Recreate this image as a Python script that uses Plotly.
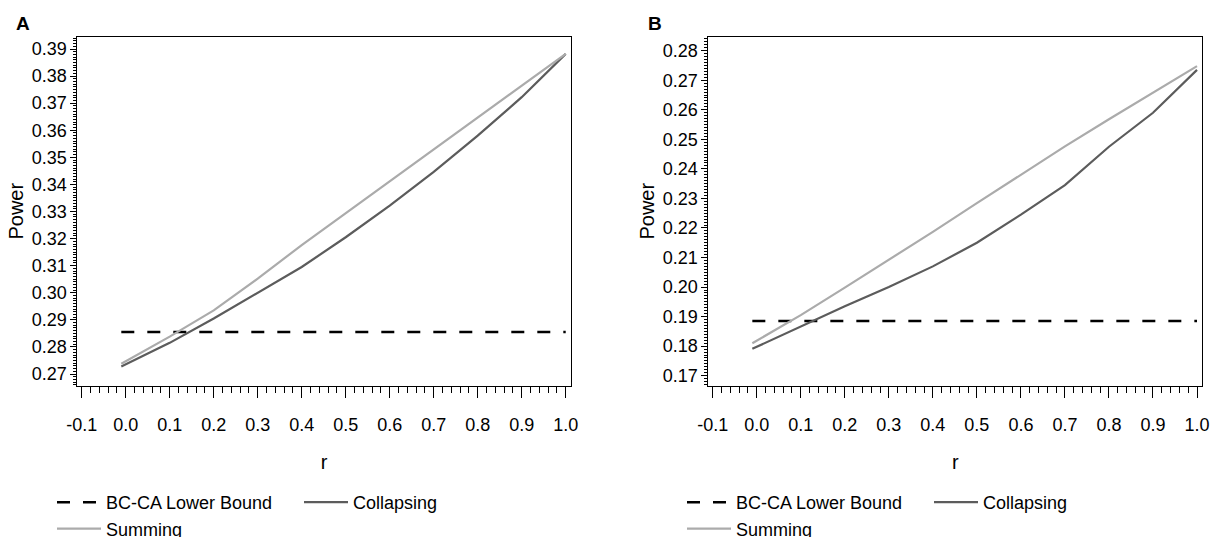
import plotly.graph_objects as go

# ---- data ----
r = [-0.01, 0.1, 0.2, 0.3, 0.4, 0.5, 0.6, 0.7, 0.8, 0.9, 1.0]

a_bound = [0.2855] * len(r)
a_collapsing = [0.2728, 0.2815, 0.2905, 0.3000, 0.3095, 0.3205, 0.3322, 0.3446, 0.3580, 0.3722, 0.3882]
a_summing = [0.2738, 0.2838, 0.2935, 0.3052, 0.3176, 0.3294, 0.3412, 0.3529, 0.3647, 0.3764, 0.3882]

b_bound = [0.1885] * len(r)
b_collapsing = [0.1791, 0.1866, 0.1935, 0.2000, 0.2070, 0.2150, 0.2245, 0.2345, 0.2475, 0.2590, 0.2735]
b_summing = [0.1810, 0.1905, 0.1998, 0.2092, 0.2187, 0.2284, 0.2380, 0.2476, 0.2568, 0.2657, 0.2748]

x_ticks = [-0.1, 0.0, 0.1, 0.2, 0.3, 0.4, 0.5, 0.6, 0.7, 0.8, 0.9, 1.0]
x_ticktext = ["-0.1", "0.0", "0.1", "0.2", "0.3", "0.4", "0.5", "0.6", "0.7", "0.8", "0.9", "1.0"]
a_yticks = [0.27, 0.28, 0.29, 0.30, 0.31, 0.32, 0.33, 0.34, 0.35, 0.36, 0.37, 0.38, 0.39]
b_yticks = [0.17, 0.18, 0.19, 0.20, 0.21, 0.22, 0.23, 0.24, 0.25, 0.26, 0.27, 0.28]

names = ["BC-CA Lower Bound", "Collapsing", "Summing"]
panel_labels = ["A", "B"]

W, H = 1213, 537
FONT = "Liberation Sans, Arial, sans-serif"
DARK = "#5c5c5c"
LIGHT = "#ababab"

fig = go.Figure()

def add_panel(xa, ya, leg, bound, coll, summ):
    fig.add_trace(go.Scatter(x=r, y=bound, mode="lines", name=names[0],
                             line=dict(color="black", width=2.6, dash="13px,13px"),
                             xaxis=xa, yaxis=ya, legend=leg, legendgroup="g1"))
    fig.add_trace(go.Scatter(x=r, y=coll, mode="lines", name=names[1],
                             line=dict(color=DARK, width=2.2),
                             xaxis=xa, yaxis=ya, legend=leg, legendgroup="g2"))
    fig.add_trace(go.Scatter(x=r, y=summ, mode="lines", name=names[2],
                             line=dict(color=LIGHT, width=2.2),
                             xaxis=xa, yaxis=ya, legend=leg, legendgroup="g1"))

add_panel("x", "y", "legend", a_bound, a_collapsing, a_summing)
add_panel("x2", "y2", "legend2", b_bound, b_collapsing, b_summing)

ydom = [1 - 385.7 / H, 1 - 36.7 / H]
xcommon = dict(range=[-0.110, 1.012], tickvals=x_ticks, ticktext=x_ticktext, automargin=False,
               ticks="outside", ticklen=11, tickwidth=1, tickcolor="black",
               minor=dict(dtick=0.02, ticks="outside", ticklen=6, tickwidth=1, tickcolor="black"),
               showline=True, mirror=True, linecolor="black", linewidth=1,
               showgrid=False, zeroline=False,
               tickfont=dict(family=FONT, size=18, color="black"),
               ticklabelstandoff=12,
               title=dict(text="r", font=dict(family=FONT, size=20, color="black"), standoff=20))
ycommon = dict(tickformat=".2f", ticks="outside", ticklen=6, tickwidth=1, tickcolor="black",
               automargin=False,
               minor=dict(dtick=0.001, ticks="outside", ticklen=3, tickwidth=1, tickcolor="black"),
               showline=True, mirror=True, linecolor="black", linewidth=1,
               showgrid=False, zeroline=False, domain=ydom,
               tickfont=dict(family=FONT, size=18, color="black"),
               title=dict(text="Power", font=dict(family=FONT, size=20, color="black"), standoff=2))

legcommon = dict(orientation="h", traceorder="grouped", xref="container", yref="container",
                 xanchor="left", yanchor="top", y=1 - 484 / H,
                 font=dict(family=FONT, size=18, color="black"), itemwidth=44,
                 entrywidth=188, tracegroupgap=0, bgcolor="rgba(0,0,0,0)")

fig.update_layout(
    width=W, height=H,
    margin=dict(l=0, r=0, t=0, b=0, autoexpand=False),
    paper_bgcolor="white", plot_bgcolor="white",
    font=dict(family=FONT, size=18, color="black"),
    xaxis=dict(domain=[77.3 / W, 571 / W], anchor="y", **xcommon),
    xaxis2=dict(domain=[708.3 / W, 1202.3 / W], anchor="y2", **xcommon),
    yaxis=dict(range=[0.26568, 0.39454], tickvals=a_yticks, anchor="x", **ycommon),
    yaxis2=dict(range=[0.16662, 0.28474], tickvals=b_yticks, anchor="x2", **ycommon),
    legend=dict(x=52 / W, **legcommon),
    legend2=dict(x=682 / W, **legcommon),
    annotations=[
        dict(text="<b>%s</b>" % panel_labels[0], x=23 / W, y=1 - 23.5 / H, xref="paper", yref="paper",
             xanchor="center", yanchor="middle",
             showarrow=False, font=dict(family=FONT, size=19, color="black")),
        dict(text="<b>%s</b>" % panel_labels[1], x=655 / W, y=1 - 23.5 / H, xref="paper", yref="paper",
             xanchor="center", yanchor="middle",
             showarrow=False, font=dict(family=FONT, size=19, color="black")),
    ],
)

fig.write_html("out.html")
